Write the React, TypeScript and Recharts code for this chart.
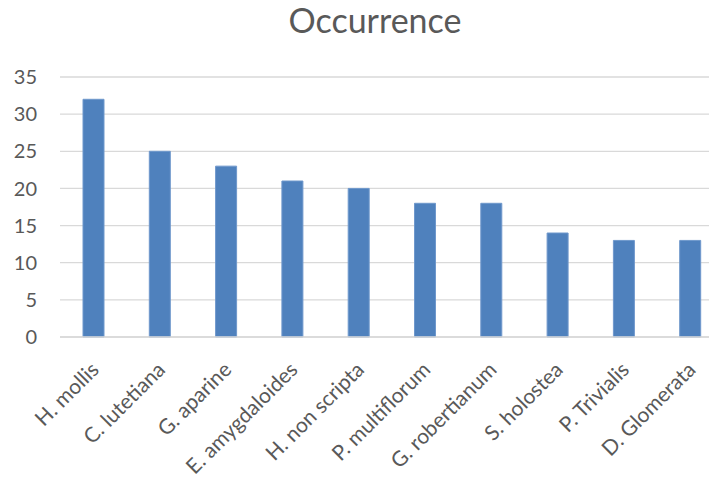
import { BarChart, Bar, XAxis, YAxis, CartesianGrid } from "recharts";

const species = [
  "H. mollis",
  "C. lutetiana",
  "G. aparine",
  "E. amygdaloides",
  "H. non scripta",
  "P. multiflorum",
  "G. robertianum",
  "S. holostea",
  "P. Trivialis",
  "D. Glomerata",
];
const occurrence = [32, 25, 23, 21, 20, 18, 18, 14, 13, 13];
const yTicks = [0, 5, 10, 15, 20, 25, 30, 35];

const data = species.map((name, i) => ({ name, occurrence: occurrence[i] }));

const FONT = "Lato, 'Open Sans', sans-serif";
const GREY = "#595959";

function SpeciesTick({ x, y, payload }: { x?: number; y?: number; payload?: { value: string } }) {
  const tx = (x ?? 0) + 7;
  const ty = (y ?? 0) + 26;
  return (
    <text
      x={tx}
      y={ty}
      transform={`rotate(-45, ${tx}, ${ty})`}
      textAnchor="end"
      fill={GREY}
      fontSize={21}
      fontFamily={FONT}
    >
      {payload?.value}
    </text>
  );
}

export default function App() {
  return (
    <div style={{ position: "relative", width: 717, height: 483, margin: -8, overflow: "hidden", background: "#fff" }}>
      <div
        style={{
          position: "absolute",
          left: 0,
          width: 750,
          top: -1,
          textAlign: "center",
          fontFamily: FONT,
          fontSize: 34,
          color: GREY,
        }}
      >
        Occurrence
      </div>
      <BarChart
        width={735}
        height={483}
        data={data}
        margin={{ top: 77, right: 12, left: 0, bottom: 0 }}
        style={{ position: "absolute", left: 0, top: 0 }}
      >
        <CartesianGrid vertical={false} stroke="#d9d9d9" strokeWidth={1.3} />
        <XAxis
          dataKey="name"
          interval={0}
          height={146}
          tick={<SpeciesTick />}
          tickLine={false}
          axisLine={{ stroke: "#d9d9d9", strokeWidth: 1.3 }}
        />
        <YAxis
          width={60}
          domain={[0, 35]}
          ticks={yTicks}
          interval={0}
          tickLine={false}
          axisLine={false}
          tickMargin={17}
          tick={{ fill: GREY, fontSize: 20, fontFamily: FONT }}
        />
        <Bar dataKey="occurrence" fill="#4f81bd" stroke="#6f98cc" strokeWidth={1} barSize={21} isAnimationActive={false} />
      </BarChart>
    </div>
  );
}
